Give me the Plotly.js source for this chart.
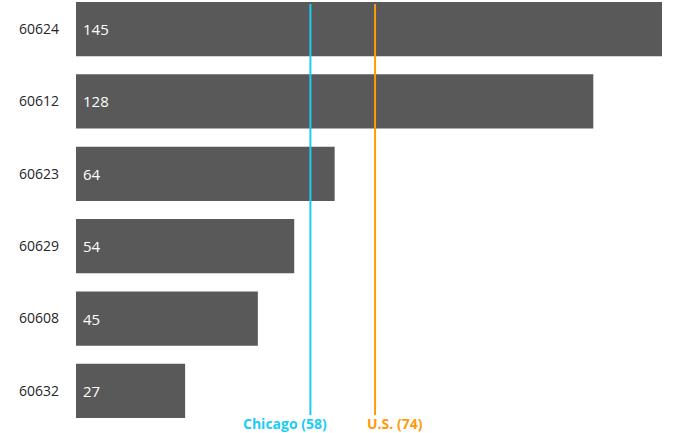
<!DOCTYPE html>
<html><head><meta charset="utf-8">
<script src="https://cdn.plot.ly/plotly-3.0.1.min.js"></script>
<style>html,body{margin:0;padding:0;background:#fff}#chart{width:673px;height:433px}</style>
</head><body><div id="chart"></div>
<script>
const zips = ["60624", "60612", "60623", "60629", "60608", "60632"];
const values = [145, 128, 64, 54, 45, 27];
const refNames = ["Chicago (58)", "U.S. (74)"];
const refValues = [58, 74];
const refColors = ["#1ECBF5", "#FF9A0A"];
const refShift = [-25, 20];

const trace = {
  type: "bar", orientation: "h",
  y: zips, x: values,
  marker: {color: "#595959"},
  width: 0.75,
  hoverinfo: "none"
};

const annotations = zips.map((z, i) => ({
  x: 0, y: i, xref: "x", yref: "y", text: String(values[i]),
  xanchor: "left", yanchor: "middle", xshift: 5, showarrow: false,
  font: {family: "Open Sans, Noto Sans, sans-serif", size: 15, color: "#ffffff"}
}));
refValues.forEach((v, i) => annotations.push({
  x: v, y: 0, xref: "x", yref: "paper", yanchor: "middle", xanchor: "center",
  yshift: -5, xshift: refShift[i], text: "<b>" + refNames[i] + "</b>", showarrow: false,
  font: {family: "Open Sans, Noto Sans, sans-serif", size: 14, color: refColors[i]}
}));

const shapes = refValues.map((v, i) => ({
  type: "line", xref: "x", yref: "paper", x0: v, x1: v, y0: 0.007, y1: 0.995,
  line: {color: refColors[i], width: 2}
}));

const layout = {
  width: 673, height: 433,
  margin: {l: 76, r: 11, t: 2, b: 15},
  paper_bgcolor: "#ffffff", plot_bgcolor: "#ffffff",
  showlegend: false,
  xaxis: {range: [0, 145], visible: false, showgrid: false, zeroline: false},
  yaxis: {type: "category", range: [5.375, -0.375], showgrid: false, zeroline: false,
    showline: false, ticks: "", ticklabelstandoff: 16,
    tickfont: {family: "Open Sans, Noto Sans, sans-serif", size: 14, color: "#262626"}},
  annotations: annotations,
  shapes: shapes
};

Plotly.newPlot("chart", [trace], layout, {staticPlot: true, displayModeBar: false});
</script></body></html>
